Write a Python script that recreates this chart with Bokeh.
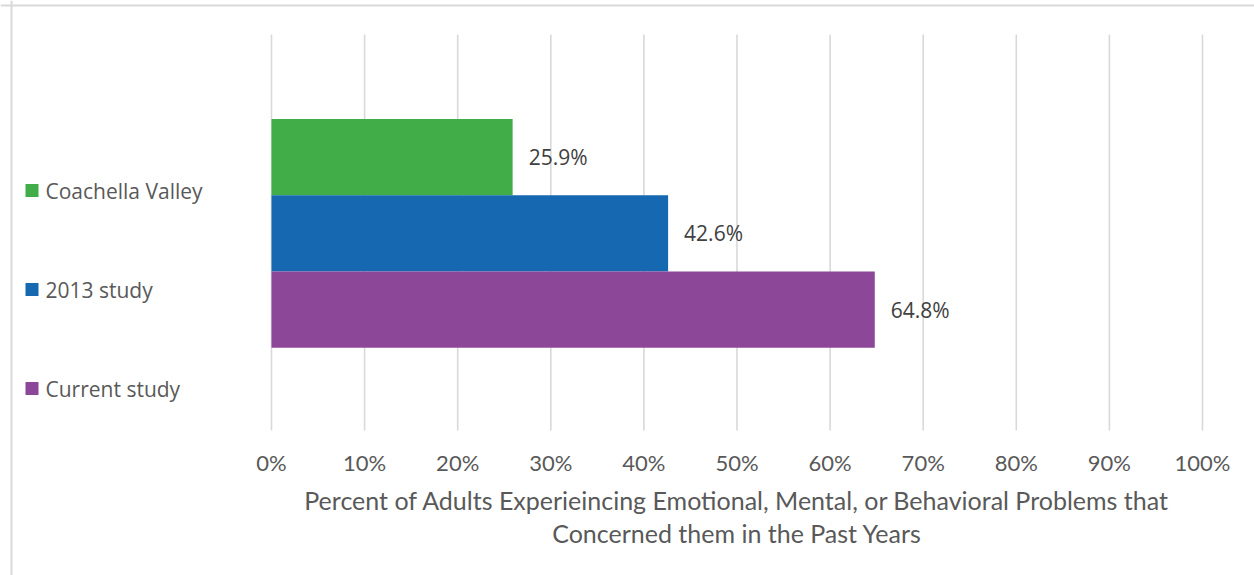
from bokeh.plotting import figure
from bokeh.models import Range1d, ColumnDataSource, Span
from bokeh.core.properties import value
from bokeh.embed import file_html
from bokeh.resources import INLINE

# ---- data ----
series = ["Coachella Valley", "2013 study", "Current study"]
values = [25.9, 42.6, 64.8]
colors = ["#41AD49", "#1668B1", "#8C4799"]
ticks = [0, 10, 20, 30, 40, 50, 60, 70, 80, 90, 100]
tick_labels = [f"{t}%" for t in ticks]
axis_title = ["Percent of Adults Experieincing Emotional, Mental, or Behavioral Problems that",
              "Concerned them in the Past Years"]

# ---- layout (pixel geometry of the reference, converted to data units) ----
W, H = 1254, 575
X0_PX, PX_PER_PCT = 271, 9.31          # 0% position and pixels per percent
Y0_PX, PX_PER_ROW = 309, 76.25         # centre of the lowest bar and pixels per bar slot

def xd(px):
    return (px - X0_PX) / PX_PER_PCT

def yd(py):
    return (Y0_PX - py) / PX_PER_ROW

p = figure(width=W, height=H, output_backend="svg", toolbar_location=None,
           x_axis_type=None, y_axis_type=None,
           x_range=Range1d(xd(0), xd(W)), y_range=Range1d(yd(H), yd(0)),
           min_border=0, min_border_left=0, min_border_right=0,
           min_border_top=0, min_border_bottom=0)
p.outline_line_color = None
p.background_fill_color = "white"
p.border_fill_color = "white"

# chart-area border (top and left edges visible)
p.add_layout(Span(location=xd(11), dimension="height", line_color="#D9D9D9", line_width=2))
p.add_layout(Span(location=yd(5), dimension="width", line_color="#D9D9D9", line_width=2))

# gridlines
p.segment(x0=ticks, x1=ticks, y0=[yd(430)] * len(ticks), y1=[yd(34)] * len(ticks),
          line_color="#D9D9D9", line_width=1.6)

# bars (top to bottom: Coachella Valley, 2013 study, Current study)
ypos = [2, 1, 0]
src = ColumnDataSource(dict(y=ypos, v=values, c=colors, s=series,
                            lab=[f"{v:.1f}%" for v in values]))
p.hbar(y="y", left=0, right="v", height=1.0, fill_color="c", line_color=None, source=src)

# data labels
p.text(x="v", y="y", text="lab", source=src, x_offset=16,
       text_align="left", text_baseline="middle",
       text_font=value("Open Sans"), text_font_size="21px", text_color="#404040")

# x tick labels
p.text(x=ticks, y=[yd(462)] * len(ticks), text=tick_labels,
       text_align="center", text_baseline="middle",
       text_font=value("Lato"), text_font_size="22px", text_color="#595959")

# axis title
p.text(x=[50, 50], y=[yd(499), yd(532)], text=axis_title,
       text_align="center", text_baseline="middle",
       text_font=value("Lato"), text_font_size="25px", text_color="#595959")

# legend (left side)
leg_y = [yd(190), yd(289), yd(388)]
p.rect(x=[xd(31.5)] * 3, y=leg_y, width=13, height=13,
       width_units="screen", height_units="screen",
       fill_color=colors, line_color=None)
p.text(x=[xd(45)] * 3, y=leg_y, text=series,
       text_align="left", text_baseline="middle",
       text_font=value("Open Sans"), text_font_size="21px", text_color="#595959")

open("out.html", "w").write(file_html(p, INLINE))
